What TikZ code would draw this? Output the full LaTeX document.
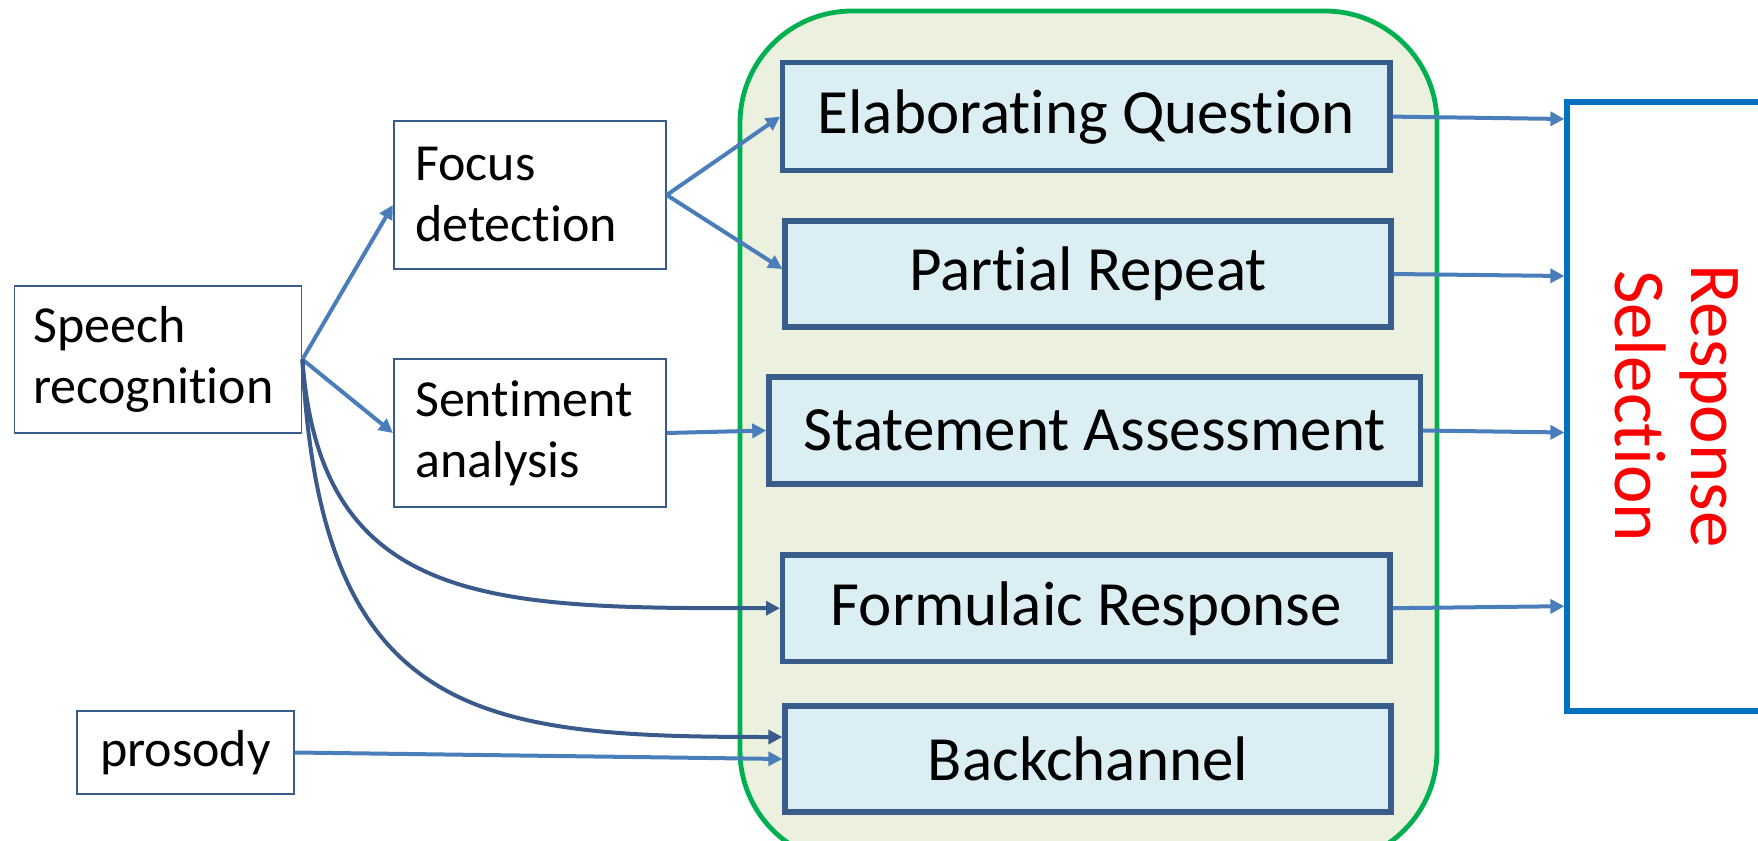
\documentclass[tikz,border=0pt]{standalone}
\usepackage{fontspec}
\setmainfont{Carlito}[Ligatures=NoCommon]
\usetikzlibrary{arrows.meta}
\definecolor{boxline}{RGB}{56,93,138}
\definecolor{arrowblue}{RGB}{74,126,187}
\definecolor{curvblue}{RGB}{59,90,140}
\definecolor{modfill}{RGB}{219,238,244}
\definecolor{grpfill}{RGB}{235,241,222}
\definecolor{grpline}{RGB}{0,176,80}
\definecolor{selline}{RGB}{0,112,192}
\tikzset{
  inbox/.style={draw=boxline, line width=0.9pt, fill=white, align=left,
    font=\fontsize{26}{30.5}\selectfont, inner ysep=0pt},
  modbox/.style={draw=boxline, line width=2.6pt, fill=modfill,
    font=\fontsize{31.5}{36}\selectfont, inner sep=0pt},
  link/.style={draw=arrowblue, line width=2pt, -{Triangle[length=7pt,width=7pt]}},
  curvlink/.style={draw=curvblue, line width=2pt, -{Triangle[length=7pt,width=7pt]}},
}
\begin{document}
\begin{tikzpicture}[x=0.5pt, y=-0.5pt]
\useasboundingbox (0,0) rectangle (1758,841);
\clip (0,0) rectangle (1758,841);

% group of response modules
\node[draw=grpline, line width=2.4pt, fill=grpfill, rounded corners=56pt,
      minimum width=348.5pt, minimum height=426pt, inner sep=0pt]
      (grp) at (1088.5,437) {};

% input analysis boxes
\node[inbox, text width=124.5pt, inner xsep=9.5pt, minimum height=73.4pt]
      (sr) at (158,359.4) {Speech\\recognition};
\node[inbox, text width=114.6pt, inner xsep=10.7pt, minimum height=74pt]
      (fd) at (529.8,195) {Focus\\detection};
\node[inbox, text width=114.6pt, inner xsep=10.7pt, minimum height=74pt]
      (sn) at (529.8,433) {Sentiment\\analysis};
\node[inbox, align=center, minimum width=108.5pt, minimum height=41.5pt, inner xsep=0pt]
      (pro) at (185.5,752.5) {prosody};

% response modules
\node[modbox, minimum width=303.7pt, minimum height=53.8pt] (eq) at (1086.3,116.6) {Elaborating Question};
\node[modbox, minimum width=303pt, minimum height=53pt] (pr) at (1088,274) {Partial Repeat};
\node[modbox, minimum width=325.8pt, minimum height=53.5pt] (sa) at (1094.7,430.5) {Statement Assessment};
\node[modbox, minimum width=303.7pt, minimum height=53.2pt] (fr) at (1086.3,608.2) {Formulaic Response};
\node[modbox, minimum width=303pt, minimum height=53pt] (bc) at (1088,759) {Backchannel};

% selection stage
\node[draw=selline, line width=2.6pt, fill=white, minimum width=104pt,
      minimum height=304.5pt, inner sep=0pt] (rs) at (1671,406.5) {};
\node[rotate=-90, text=red, align=center, font=\fontsize{36.5}{38}\selectfont]
      (rstext) at (1677,406) {Response\\Selection};

% connectors
\draw[link] (sr.east) -- ([yshift=-5pt]fd.west);
\draw[link] (sr.east) -- (sn.west);
\draw[link] (fd.east) -- (eq.west);
\draw[link] (fd.east) -- ([yshift=2.5pt]pr.west);
\draw[link] (sn.east) -- (sa.west);
\draw[link] (pro.east) -- (bc.west);
\draw[curvlink] (sr.east) .. controls +(18,251) and +(-282,0) .. (fr.west);
\draw[curvlink] (sr.east) .. controls +(18,361) and +(-302,0) .. ([yshift=11pt]bc.west);

\draw[link] (eq.east) -- ([yshift=-1.2pt]eq.east -| rs.west);
\draw[link] (pr.east) -- ([yshift=-1pt]pr.east -| rs.west);
\draw[link] (sa.east) -- ([yshift=-1pt]sa.east -| rs.west);
\draw[link] (fr.east) -- ([yshift=1pt]fr.east -| rs.west);
\end{tikzpicture}
\end{document}
